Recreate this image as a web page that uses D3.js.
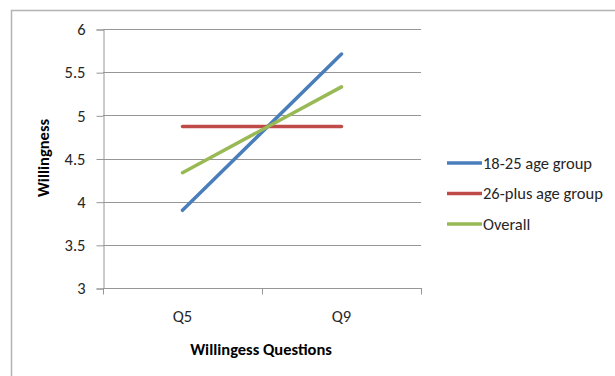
<!DOCTYPE html>
<html>
<head>
<meta charset="utf-8">
<script src="https://cdn.jsdelivr.net/npm/d3@7"></script>
<style>
  html, body { margin: 0; padding: 0; background: #fff; }
  svg { display: block; font-family: Carlito, Calibri, "Open Sans", "Liberation Sans", sans-serif; }
</style>
</head>
<body>
<svg id="chart" width="615" height="376"></svg>
<script>
// Survey responses: mean willingness score per question
const questions = ["Q5", "Q9"];
const youngGroup = [3.90, 5.71];
const olderGroup = [4.87, 4.87];
const overall = [4.335, 5.33];
const seriesNames = ["18-25 age group", "26-plus age group", "Overall"];
const seriesColors = ["#4a7ebb", "#be4b48", "#98b954"];
const yTicks = [3, 3.5, 4, 4.5, 5, 5.5, 6];

const series = [youngGroup, olderGroup, overall].map((values, i) => ({
  name: seriesNames[i], color: seriesColors[i], values
}));

const FS = 16.5;
const svg = d3.select("#chart");
const plot = { left: 103, right: 421, top: 29, bottom: 288 };

// chart frame
svg.append("rect")
  .attr("x", 11.5).attr("y", 10.5)
  .attr("width", 700).attr("height", 500)
  .attr("fill", "#fff").attr("stroke", "#b3b3b3").attr("stroke-width", 1.5);

const x = d3.scaleBand().domain(questions).range([plot.left, plot.right]);
const y = d3.scaleLinear().domain([3, 6]).range([plot.bottom, plot.top]);

// horizontal gridlines
svg.append("g")
  .selectAll("line").data(yTicks.filter(t => t > 3)).join("line")
  .attr("x1", plot.left).attr("x2", plot.right)
  .attr("y1", d => Math.round(y(d)) + 0.5).attr("y2", d => Math.round(y(d)) + 0.5)
  .attr("stroke", "#969696").attr("stroke-width", 1);

// y axis
const yAxis = svg.append("g")
  .attr("transform", `translate(${plot.left + 0.5},0.5)`)
  .call(d3.axisLeft(y).tickValues(yTicks).tickSize(7).tickPadding(11).tickFormat(d3.format("")));
yAxis.select(".domain").attr("stroke", "#969696");
yAxis.selectAll(".tick line").attr("stroke", "#969696");
yAxis.selectAll("text").attr("font-size", FS).attr("fill", "#262626")
  .attr("font-family", "Carlito, Calibri, 'Open Sans', sans-serif");

// x axis with tick marks at band boundaries
const xAxisG = svg.append("g").attr("transform", `translate(0,${plot.bottom + 0.5})`);
xAxisG.append("line")
  .attr("x1", plot.left).attr("x2", plot.right + 1)
  .attr("stroke", "#969696");
const boundaries = [plot.left, ...questions.map(q => x(q) + x.bandwidth())];
xAxisG.selectAll("line.tk").data(boundaries).join("line").attr("class", "tk")
  .attr("x1", d => Math.round(d) + 0.5).attr("x2", d => Math.round(d) + 0.5)
  .attr("y1", 0).attr("y2", 6)
  .attr("stroke", "#969696");
xAxisG.selectAll("text").data(questions).join("text")
  .attr("x", d => x(d) + x.bandwidth() / 2)
  .attr("y", 33)
  .attr("text-anchor", "middle")
  .attr("font-size", FS).attr("fill", "#262626")
  .text(d => d);

// axis titles
svg.append("text")
  .attr("x", 261).attr("y", 355)
  .attr("text-anchor", "middle")
  .attr("font-size", FS).attr("font-weight", "bold").attr("fill", "#000")
  .text("Willingess Questions");
svg.append("text")
  .attr("transform", "translate(49,158) rotate(-90)")
  .attr("text-anchor", "middle")
  .attr("font-size", FS).attr("font-weight", "bold").attr("fill", "#000")
  .text("Willingness");

// series lines
const line = d3.line()
  .x((d, i) => x(questions[i]) + x.bandwidth() / 2)
  .y(d => y(d));
svg.append("g").selectAll("path").data(series).join("path")
  .attr("d", d => line(d.values))
  .attr("fill", "none")
  .attr("stroke", d => d.color)
  .attr("stroke-width", 3.5)
  .attr("stroke-linecap", "round");

// legend
const legend = svg.append("g").selectAll("g").data(series).join("g")
  .attr("transform", (d, i) => `translate(447,${163 + i * 30.5})`);
legend.append("line")
  .attr("x1", 0).attr("x2", 35)
  .attr("stroke", d => d.color).attr("stroke-width", 3.5);
legend.append("text")
  .attr("x", 36).attr("y", 5.5)
  .attr("font-size", FS).attr("fill", "#262626")
  .text(d => d.name);
</script>
</body>
</html>
